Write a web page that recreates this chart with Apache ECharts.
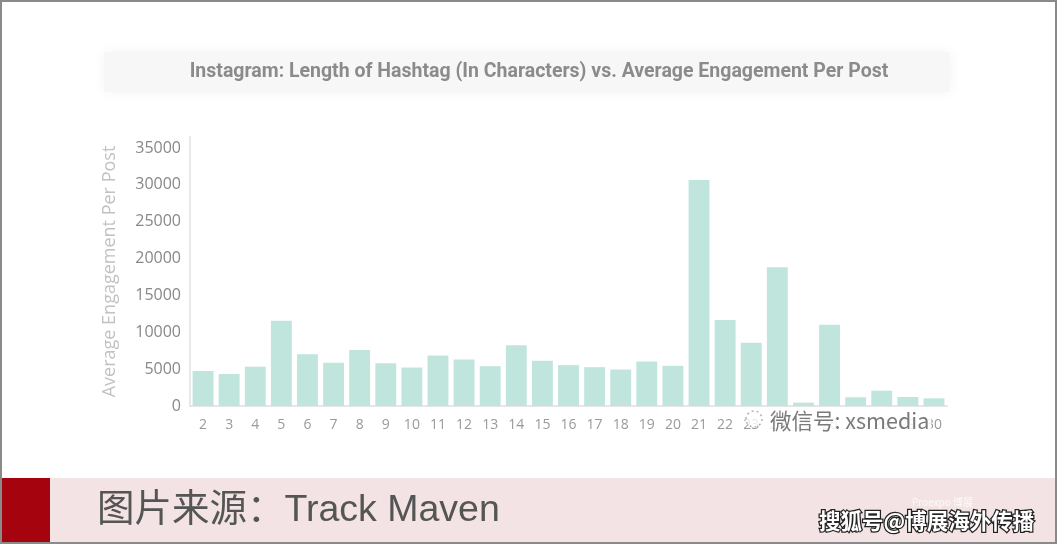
<!DOCTYPE html>
<html>
<head>
<meta charset="utf-8">
<script src="https://cdn.jsdelivr.net/npm/echarts@6/dist/echarts.min.js"></script>
<style>
  html, body { margin: 0; padding: 0; background: #fff; }
  #chart { width: 1057px; height: 545px; }
</style>
</head>
<body>
<div id="chart"></div>
<script>
// Hashtag length (characters) on the x axis
const hashtagLengths = ['2','3','4','5','6','7','8','9','10','11','12','13','14','15','16','17','18','19','20','21','22','23','24','25','26','27','28','29','30'];
// Average engagement per post for each hashtag length
const engagement = [4750, 4340, 5330, 11570, 7010, 5880, 7600, 5800, 5220, 6850, 6310, 5400, 8250, 6130, 5540, 5270, 4950, 6040, 5450, 30660, 11670, 8590, 18820, 450, 11030, 1180, 2080, 1220, 1040];
// Value axis ticks
const yTicks = [0, 5000, 10000, 15000, 20000, 25000, 30000, 35000];

const chartTitle = 'Instagram: Length of Hashtag (In Characters) vs. Average Engagement Per Post';
const yAxisName = 'Average Engagement Per Post';
const sourceText = '图片来源：Track Maven';
const wechatMark = '微信号: xsmedia';
const sohuMark = '搜狐号@博展海外传播';

const chart = echarts.init(document.getElementById('chart'));

chart.setOption({
  animation: false,
  backgroundColor: '#ffffff',
  grid: { left: 190, right: 110, top: 137, bottom: 139, containLabel: false },
  xAxis: {
    type: 'category',
    data: hashtagLengths,
    axisLine: { show: true, lineStyle: { color: '#e6e6e6', width: 2 } },
    axisTick: { show: false },
    axisLabel: {
      color: '#9a9a9a', fontSize: 14, margin: 12,
      fontFamily: 'Open Sans', interval: 0
    }
  },
  yAxis: {
    type: 'value',
    min: 0,
    max: 36500,
    interval: 5000,
    name: yAxisName,
    nameLocation: 'middle',
    nameRotate: 90,
    nameGap: 71,
    nameTextStyle: { color: '#c2c2c2', fontSize: 18, fontFamily: 'Open Sans' },
    axisLine: { show: true, lineStyle: { color: '#e8e8e8', width: 2 } },
    axisTick: { show: false },
    splitLine: { show: false },
    axisLabel: {
      color: '#888888', fontSize: 16, margin: 9, fontFamily: 'Open Sans',
      formatter: function (v) { return yTicks.indexOf(v) >= 0 ? String(v) : ''; }
    }
  },
  series: [{
    type: 'bar',
    data: engagement,
    barCategoryGap: '20%',
    itemStyle: { color: '#bfe5dc' }
  }],
  graphic: [
    // outer frame
    { type: 'rect', z: 100, silent: true,
      shape: { x: 1, y: 1, width: 1055, height: 542 },
      style: { fill: 'none', stroke: '#8a8a8a', lineWidth: 2 } },
    // title panel
    { type: 'rect', z: 1,
      shape: { x: 104, y: 52, width: 846, height: 40 },
      style: { fill: '#f7f7f7', shadowBlur: 12, shadowColor: '#f3f3f3' } },
    { type: 'text', z: 2, x: 539, y: 72,
      style: { text: chartTitle, fill: '#8b8b8b', font: 'bold 19.5px "Roboto", sans-serif',
        align: 'center', verticalAlign: 'middle' } },
    // wechat watermark over the axis labels
    { type: 'circle', z: 20,
      shape: { cx: 754, cy: 419, r: 8 },
      style: { fill: 'rgba(255,255,255,0.8)', stroke: '#b0b0b0', lineWidth: 1.5, lineDash: [2, 3] } },
    { type: 'text', z: 21, x: 770, y: 421,
      style: { text: wechatMark, fill: '#7a7a7a', font: '21.5px "Noto Sans CJK SC", sans-serif',
        align: 'left', verticalAlign: 'middle',
        backgroundColor: 'rgba(255,255,255,0.85)', padding: [0, 2, 0, 0] } },
    // source band
    { type: 'rect', z: 30,
      shape: { x: 0, y: 478, width: 1057, height: 64 },
      style: { fill: '#f3e3e4' } },
    { type: 'rect', z: 31,
      shape: { x: 0, y: 478, width: 50, height: 64 },
      style: { fill: '#a5040f' } },
    { type: 'text', z: 32, x: 97, y: 511,
      style: { text: sourceText, fill: '#555555', font: '37.5px "Liberation Sans", "Noto Sans CJK SC", sans-serif',
        align: 'left', verticalAlign: 'middle' } },
    { type: 'text', z: 32, x: 912, y: 502,
      style: { text: 'Proexpo 博展', fill: 'rgba(255,255,255,0.8)', font: '10px "Noto Sans CJK SC", sans-serif',
        align: 'left', verticalAlign: 'middle' } },
    { type: 'text', z: 33, x: 819, y: 521,
      style: { text: sohuMark, fill: '#ffffff', font: 'bold 21.5px "Noto Sans CJK SC", sans-serif',
        align: 'left', verticalAlign: 'middle',
        stroke: '#222222', lineWidth: 2.5,
        shadowColor: 'rgba(200,0,0,0.5)', shadowOffsetX: 1, shadowOffsetY: 0, shadowBlur: 0 } }
  ]
});
</script>
</body>
</html>
